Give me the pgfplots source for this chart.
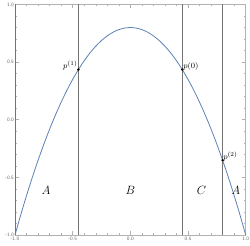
\documentclass[border=0pt]{standalone}
\usepackage{pgfplots}
\pgfplotsset{compat=1.18}
\definecolor{mblue}{HTML}{5E81B5}
\definecolor{fr}{gray}{0.7}
\definecolor{vl}{gray}{0.45}
\definecolor{tl}{gray}{0.4}
\begin{document}
\begin{tikzpicture}
\begin{axis}[
  scale only axis, width=230.7pt, height=230.5pt,
  at={(15pt,11pt)}, anchor=south west,
  xmin=-1, xmax=1, ymin=-1, ymax=1,
  axis line style={fr, line width=0.5pt},
  xtick={-1,-0.5,0,0.5,1}, ytick={-1,-0.5,0,0.5,1},
  minor tick num=4,
  tick align=inside,
  major tick length=3.5pt, minor tick length=2pt,
  every tick/.style={fr, line width=0.5pt},
  every minor tick/.style={fr, line width=0.4pt},
  tick label style={font=\sffamily\fontsize{5}{6}\selectfont, text=tl},
  xticklabel style={inner sep=1pt, yshift=-0.8pt},
  yticklabel style={inner sep=1pt},
  /pgf/number format/.cd, fixed, fixed zerofill, precision=1, assume math mode=true,
  /tikz/.cd,
  clip=false,
]
\addplot[vl, line width=0.6pt] coordinates {(-1,-1) (-1,1)};
\addplot[vl, line width=0.6pt] coordinates {(-0.45,-1) (-0.45,1)};
\addplot[vl, line width=0.6pt] coordinates {(0.45,-1) (0.45,1)};
\addplot[vl, line width=0.6pt] coordinates {(0.8,-1) (0.8,1)};
\addplot[mblue, line width=0.8pt, smooth] coordinates {
(-1,-1) (-0.95,-0.8245) (-0.9,-0.658) (-0.85,-0.5005) (-0.8,-0.352) (-0.75,-0.2125)
(-0.7,-0.082) (-0.65,0.0395) (-0.6,0.152) (-0.55,0.2555) (-0.5,0.35) (-0.45,0.4355)
(-0.4,0.512) (-0.35,0.5795) (-0.3,0.638) (-0.25,0.6875) (-0.2,0.728) (-0.15,0.7595)
(-0.1,0.782) (-0.05,0.7955) (0,0.8) (0.05,0.7955) (0.1,0.782) (0.15,0.7595)
(0.2,0.728) (0.25,0.6875) (0.3,0.638) (0.35,0.5795) (0.4,0.512) (0.45,0.4355)
(0.5,0.35) (0.55,0.2555) (0.6,0.152) (0.65,0.0395) (0.7,-0.082) (0.75,-0.2125)
(0.8,-0.352) (0.85,-0.5005) (0.9,-0.658) (0.95,-0.8245) (1,-1)};
\addplot[only marks, mark=*, mark size=1pt, black] coordinates {(-0.45,0.4355) (0.45,0.4355) (0.8,-0.352)};
\node[anchor=south east, font=\fontsize{8}{9}\selectfont, inner sep=0.5pt, xshift=-0.3pt, yshift=-1.5pt] at (axis cs:-0.45,0.4355) {$p^{(1)}$};
\node[anchor=south west, font=\fontsize{8}{9}\selectfont, inner sep=0.5pt, xshift=0.3pt, yshift=-1.5pt] at (axis cs:0.45,0.4355) {$p(0)$};
\node[anchor=south west, font=\fontsize{8}{9}\selectfont, inner sep=0.5pt, xshift=0pt, yshift=-1.5pt] at (axis cs:0.8,-0.352) {$p^{(2)}$};
\node[font=\fontsize{12}{13}\selectfont] at (axis cs:-0.73,-0.616) {$A$};
\node[font=\fontsize{12}{13}\selectfont] at (axis cs:0,-0.616) {$B$};
\node[font=\fontsize{12}{13}\selectfont] at (axis cs:0.618,-0.616) {$C$};
\node[font=\fontsize{12}{13}\selectfont] at (axis cs:0.913,-0.616) {$A$};
\end{axis}
\pgfresetboundingbox
\path (0,0) rectangle (250pt,246pt);
\end{tikzpicture}
\end{document}
